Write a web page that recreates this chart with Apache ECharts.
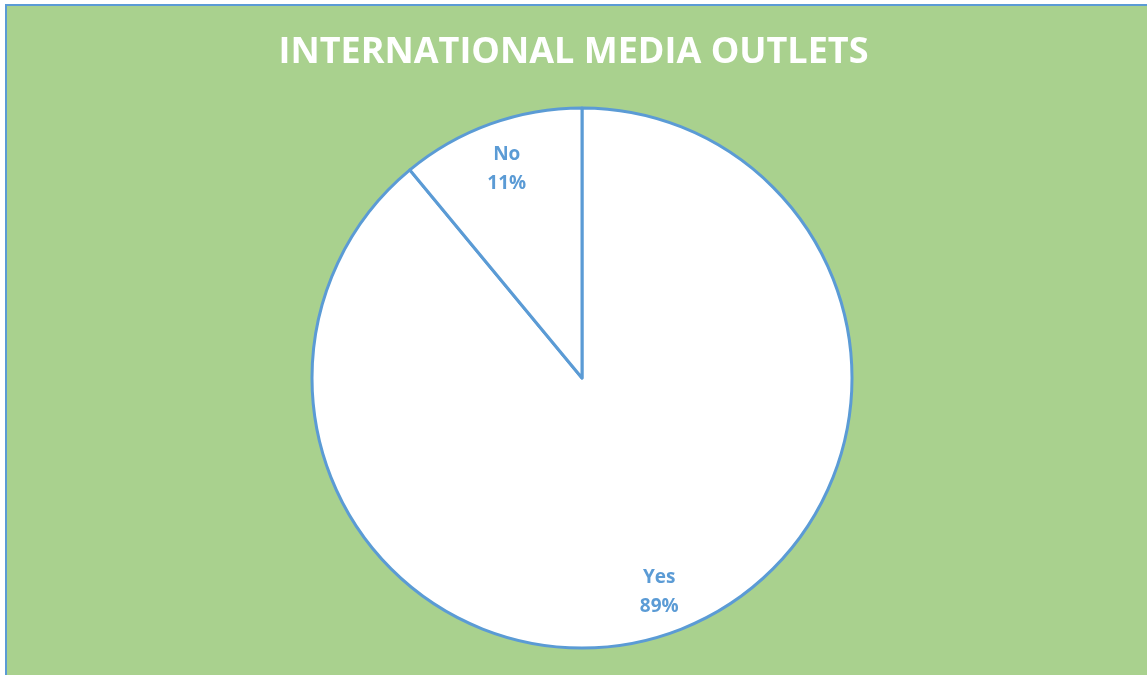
<!DOCTYPE html>
<html>
<head>
<meta charset="utf-8">
<script src="https://cdn.jsdelivr.net/npm/echarts@6/dist/echarts.min.js"></script>
<style>
html,body{margin:0;padding:0;background:#ffffff;width:1147px;height:675px;overflow:hidden;}
#frame{position:absolute;left:5px;top:4px;width:1160px;height:690px;background:#A9D18E;border-left:2px solid #5B9BD5;border-top:2px solid #5B9BD5;}
#chart{position:absolute;left:0;top:0;width:1147px;height:675px;}
</style>
</head>
<body>
<div id="frame"></div>
<div id="chart"></div>
<script>
const titleText = 'INTERNATIONAL MEDIA OUTLETS';
const categories = ['Yes', 'No'];
const values = [89, 11];

const data = categories.map((c, i) => ({ name: c, value: values[i] }));
const labelData = data.map((d, i) => (i === 1 ? Object.assign({}, d, { label: { offset: [2, 6] } }) : d));
const chart = echarts.init(document.getElementById('chart'), null, { renderer: 'canvas' });
chart.setOption({
  backgroundColor: 'transparent',
  animation: false,
  title: {
    text: titleText,
    left: 'center',
    top: 30,
    textStyle: { color: '#ffffff', fontFamily: 'Open Sans', fontWeight: 'bold', fontSize: 36 }
  },
  series: [
    {
      type: 'pie',
      center: [582, 378],
      radius: [0, 270],
      startAngle: 90,
      clockwise: true,
      silent: true,
      data: data,
      itemStyle: { color: '#ffffff', borderColor: '#5B9BD5', borderWidth: 3 },
      label: { show: false },
      labelLine: { show: false }
    },
    {
      type: 'pie',
      center: [582, 378],
      radius: [180, 270],
      startAngle: 90,
      clockwise: true,
      silent: true,
      data: labelData,
      itemStyle: { color: 'rgba(0,0,0,0)', borderWidth: 0 },
      label: {
        show: true,
        position: 'inside',
        formatter: '{b}\n{d}%',
        color: '#5B9BD5',
        fontFamily: 'Open Sans',
        fontWeight: 'bold',
        fontSize: 19,
        lineHeight: 29
      },
      labelLine: { show: false }
    }
  ]
});
</script>
</body>
</html>
